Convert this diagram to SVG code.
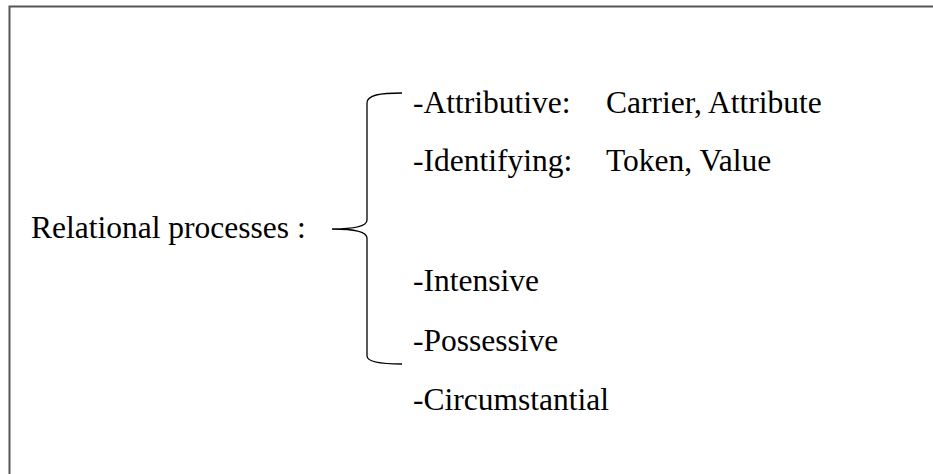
<svg xmlns="http://www.w3.org/2000/svg" width="933" height="474" viewBox="0 0 933 474">
<style>
text{font-family:"Liberation Serif","Times New Roman",serif;font-size:31.5px;fill:#000}
.frame{stroke:#555;stroke-width:2;fill:none}
.brace{stroke:#000;stroke-width:1.3;fill:none}
</style>
<rect width="933" height="474" fill="#fff"/>
<g id="frame"><path class="frame" d="M9.5,474 V6.5 H933"/></g>
<g id="root"><text x="31" y="238">Relational processes :</text></g>
<g id="connectors"><path class="brace" d="M402,93 C380,93 367,95 367,103 V220 C367,227 350,229 332,229 C350,229 367,231 367,238 V356 C367,362 380,364 402,364"/></g>
<g id="attributive"><text x="413" y="113">-Attributive:</text><text x="606" y="113">Carrier, Attribute</text></g>
<g id="identifying"><text x="413" y="171">-Identifying:</text><text x="606" y="171">Token, Value</text></g>
<g id="intensive"><text x="413" y="291">-Intensive</text></g>
<g id="possessive"><text x="413" y="351">-Possessive</text></g>
<g id="circumstantial"><text x="413" y="410">-Circumstantial</text></g>
</svg>
